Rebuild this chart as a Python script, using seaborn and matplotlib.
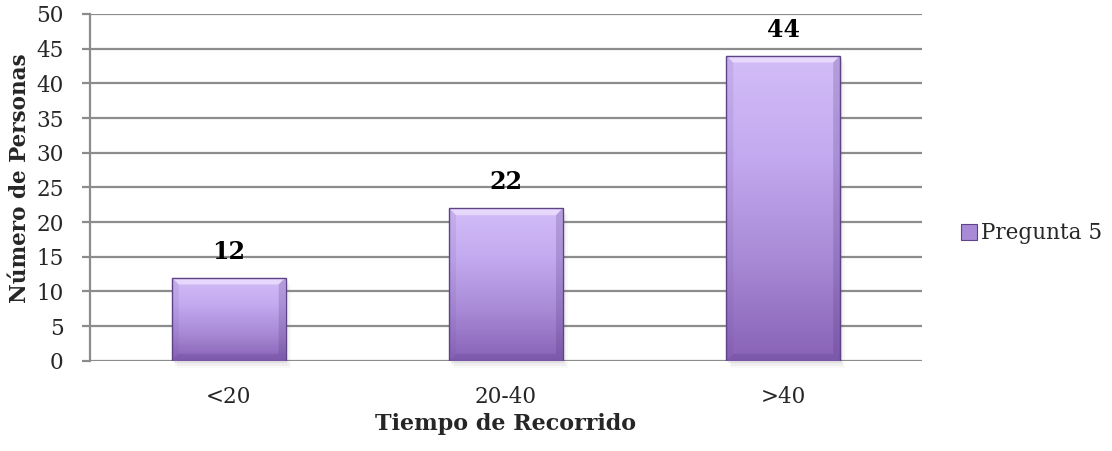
import numpy as np
import pandas as pd
import matplotlib
matplotlib.use("Agg")
import matplotlib.pyplot as plt
from matplotlib.colors import LinearSegmentedColormap
from matplotlib.patches import Polygon, Rectangle
import seaborn as sns

# Data
categorias = ["<20", "20-40", ">40"]
personas = [12, 22, 44]
serie = "Pregunta 5"

sns.set_theme(style="white")
plt.rcParams["font.family"] = ["DejaVu Serif", "DejaVu Sans"]

df = pd.DataFrame({"Tiempo": categorias, "Personas": personas, "Serie": serie})

fig = plt.figure(figsize=(11.12, 4.51), dpi=100)
ax = fig.add_axes([0.081, 0.2, 0.748, 0.769])

sns.barplot(data=df, x="Tiempo", y="Personas", color="#B39BE0", width=0.41,
            ax=ax, zorder=3, edgecolor="none")

ax.set_ylim(0, 50)
ax.set_xlim(-0.5, 2.5)
ax.set_yticks(np.arange(0, 51, 5))
ax.yaxis.grid(True, color="#8C8C8C", linewidth=1.6, zorder=0)
ax.xaxis.grid(False)
for side in ["top", "right", "bottom"]:
    ax.spines[side].set_visible(False)
ax.spines["left"].set_color("#8C8C8C")
ax.spines["left"].set_linewidth(1.6)
ax.tick_params(axis="y", which="major", direction="out", length=6, width=1.6,
               color="#8C8C8C", left=True, labelsize=15.5, pad=13)
ax.tick_params(axis="x", bottom=False, labelsize=15.5, pad=12)

ax.set_xlabel("Tiempo de Recorrido", fontsize=16, fontweight="bold", labelpad=4)
ax.set_ylabel("Número de Personas", fontsize=15.5, fontweight="bold")
ax.yaxis.set_label_coords(-0.071, 0.527)

# Vertical gradient fill with bevelled edges on every bar
cmap = LinearSegmentedColormap.from_list(
    "lav", ["#D3BDF8", "#C3A9EF", "#A88AD6", "#8862B6"])
grad = np.linspace(0, 1, 256).reshape(-1, 1)
for bar in list(ax.patches):
    x0, w, h = bar.get_x(), bar.get_width(), bar.get_height()
    bar.set_facecolor("none")
    # soft shadow
    for k, a in enumerate([0.10, 0.06, 0.03]):
        d = 0.006 * (k + 1)
        ax.add_patch(Rectangle((x0 + d, -0.35 * (k + 1)), w, h, facecolor="#555555",
                               alpha=a, edgecolor="none", zorder=2, clip_on=False))
    im = ax.imshow(grad, cmap=cmap, aspect="auto", extent=(x0, x0 + w, 0, h),
                   zorder=3, interpolation="bicubic")
    im.set_clip_path(bar)
    bx = w * 0.06
    by = 50 * 0.02
    # top bevel (light)
    ax.add_patch(Polygon([(x0, h), (x0 + w, h), (x0 + w - bx, h - by), (x0 + bx, h - by)],
                         closed=True, facecolor="#F0E6FF", alpha=0.7, edgecolor="none", zorder=4))
    # side bevels
    ax.add_patch(Polygon([(x0, h), (x0 + bx, h - by), (x0 + bx, by), (x0, 0)],
                         closed=True, facecolor="#6E4E98", alpha=0.12, edgecolor="none", zorder=4))
    ax.add_patch(Polygon([(x0 + w, h), (x0 + w - bx, h - by), (x0 + w - bx, by), (x0 + w, 0)],
                         closed=True, facecolor="#4E3478", alpha=0.22, edgecolor="none", zorder=4))
    # bottom bevel
    ax.add_patch(Polygon([(x0, 0), (x0 + w, 0), (x0 + w - bx, by), (x0 + bx, by)],
                         closed=True, facecolor="#4A2F78", alpha=0.18, edgecolor="none", zorder=4))
    ax.add_patch(Rectangle((x0, 0), w, h, facecolor="none", edgecolor="#5E4386",
                           linewidth=1.0, zorder=5))

# Value labels
for i, v in enumerate(personas):
    ax.text(i, v + 2.0, str(v), ha="center", va="bottom", fontsize=17,
            fontweight="bold", color="black", zorder=6)

# Legend
handle = Rectangle((0, 0), 1, 1, facecolor="#A88AD6", edgecolor="#5E4386", linewidth=0.8)
fig.legend([handle], [serie], loc="center left", bbox_to_anchor=(0.864, 0.483),
           frameon=False, fontsize=15.5, handlelength=0.75, handleheight=0.75,
           handletextpad=0.2, borderaxespad=0, borderpad=0)

fig.savefig("out.png", dpi=100, facecolor="white")
